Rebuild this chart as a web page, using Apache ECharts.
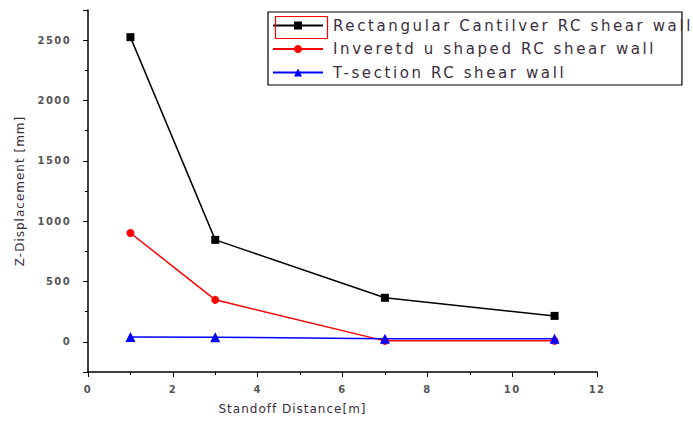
<!DOCTYPE html>
<html><head><meta charset="utf-8">
<script src="https://cdn.jsdelivr.net/npm/echarts@6/dist/echarts.min.js"></script>
<style>
html,body{margin:0;padding:0;background:#fff}
#c{width:693px;height:426px}
#c svg text{letter-spacing:1px}
#c svg text[style*="15px"]{letter-spacing:2.6px}
#c svg text[style*="10px"]{letter-spacing:1.4px}
</style>
</head><body><div id="c"></div>
<script>
const standoff = [1, 3, 7, 11];
const rectangular = [2525, 845, 365, 215];
const invertedU = [902, 348, 8, 8];
const tSection = [40, 38, 25, 25];
const seriesNames = ['Rectangular Cantilver RC shear wall', 'Inveretd u shaped RC shear wall', 'T-section RC shear wall'];
const xTitle = 'Standoff Distance[m]';
const yTitle = 'Z-Displacement [mm]';

const pair = (ys) => standoff.map((x, i) => [x, ys[i]]);
const chart = echarts.init(document.getElementById('c'), null, {renderer: 'svg'});
const labelStyle = {color: '#555', fontSize: 10, fontFamily: 'DejaVu Sans', fontWeight: 'bold'};
chart.setOption({
  animation: false,
  backgroundColor: '#fff',
  grid: {left: 88, right: 96, top: 10, bottom: 54, containLabel: false},
  xAxis: {
    type: 'value', min: 0, max: 12, interval: 2,
    name: xTitle, nameLocation: 'middle', nameGap: 31,
    nameTextStyle: {color: '#3a2e3e', fontSize: 12, fontFamily: 'DejaVu Sans', padding: [0, 100, 0, 0]},
    axisLine: {show: true, onZero: false, lineStyle: {color: '#000', width: 1.5}},
    axisTick: {show: true, length: 5, lineStyle: {color: '#000'}},
    minorTick: {show: true, splitNumber: 2, length: 3, lineStyle: {color: '#000'}},
    splitLine: {show: false},
    axisLabel: Object.assign({margin: 12}, labelStyle)
  },
  yAxis: {
    type: 'value', min: -250, max: 2750, splitNumber: 6,
    name: yTitle, nameLocation: 'middle', nameGap: 62,
    nameTextStyle: {color: '#3a2e3e', fontSize: 12, fontFamily: 'DejaVu Sans'},
    axisLine: {show: true, onZero: false, lineStyle: {color: '#000', width: 1.5}},
    axisTick: {show: true, length: 5, lineStyle: {color: '#000'}},
    minorTick: {show: true, splitNumber: 2, length: 3, lineStyle: {color: '#000'}},
    splitLine: {show: false},
    axisLabel: Object.assign({margin: 17, showMinLabel: false, showMaxLabel: false,
      formatter: v => (v % 500 === 0 ? String(v) : '')}, labelStyle)
  },
  legend: {
    orient: 'vertical', left: 268, top: 12,
    borderColor: '#000', borderWidth: 1.2,
    padding: [6, 80, 5, 4], itemGap: 8.5,
    itemWidth: 50, itemHeight: 10,
    textStyle: {color: '#3a2e3e', fontSize: 15, fontFamily: 'DejaVu Sans', padding: [0, 0, 0, 5]},
    data: seriesNames
  },
  graphic: [{type: 'rect', left: 273, top: 14, shape: {width: 52, height: 22},
    style: {fill: 'none', stroke: '#ff0000', lineWidth: 1.2}, z: 100}],
  series: [
    {name: seriesNames[0], type: 'line', data: pair(rectangular), symbol: 'rect', symbolSize: 8,
     itemStyle: {color: '#000'}, lineStyle: {color: '#000', width: 1.5}},
    {name: seriesNames[1], type: 'line', data: pair(invertedU), symbol: 'circle', symbolSize: 8,
     itemStyle: {color: '#ff0000'}, lineStyle: {color: '#ff0000', width: 1.5}},
    {name: seriesNames[2], type: 'line', data: pair(tSection), symbol: 'triangle', symbolSize: 10,
     itemStyle: {color: '#0000ff'}, lineStyle: {color: '#0000ff', width: 1.5}}
  ]
});
</script></body></html>
